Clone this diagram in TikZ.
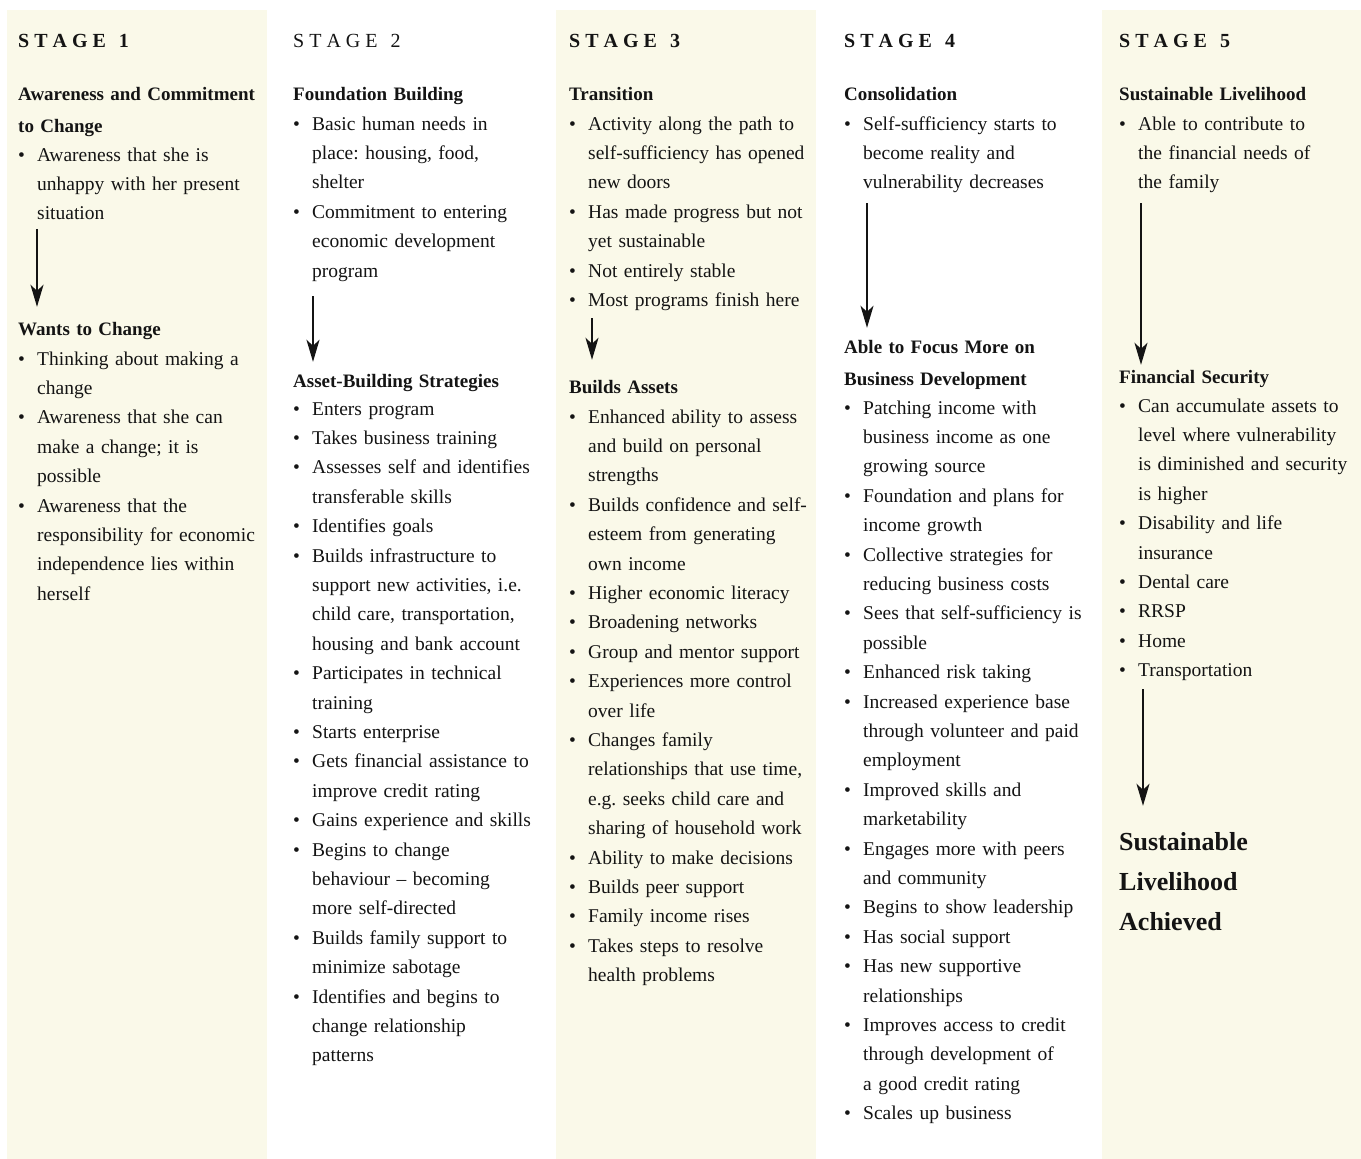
\documentclass[tikz,border=0pt]{standalone}
\usepackage{fontspec}
\setmainfont{Liberation Serif}
\usetikzlibrary{arrows.meta}
\definecolor{panel}{RGB}{250,249,233}
\definecolor{ink}{RGB}{20,20,20}
\newcommand\bul{\makebox[19pt][l]{\textbullet}}
\newcommand\itmf{\noindent\bul}
\newcommand\itm{\newline\bul}
\newcommand\nl{\newline\hspace*{19pt}}
\newcommand\stagettl[1]{S\kern5pt T\kern5pt A\kern5pt G\kern5pt E\kern13pt #1}
\frenchspacing
\begin{document}
\begin{tikzpicture}[x=1pt,y=-1pt,
  panelbox/.style={fill=panel,draw=none},
  ttl/.style={anchor=base west,inner sep=0pt,text=ink,font=\fontsize{20}{24}\selectfont\bfseries},
  ttlreg/.style={anchor=base west,inner sep=0pt,text=ink,font=\fontsize{20}{24}\selectfont},
  hd/.style={anchor=base west,inner sep=0pt,text=ink,text width=280pt,align=left,font=\fontsize{19}{32}\selectfont\bfseries\frenchspacing},
  lst/.style={anchor=base west,inner sep=0pt,text=ink,text width=280pt,align=left,font=\fontsize{19.5}{29.4}\selectfont\frenchspacing},
  big/.style={anchor=base west,inner sep=0pt,text=ink,text width=280pt,align=left,font=\fontsize{26}{40}\selectfont\bfseries},
  arr/.style={draw=ink,line width=1.6pt,-{Stealth[length=22pt,width=13pt,inset=6pt]}}]
\useasboundingbox (0,0) rectangle (1361,1159);
\fill[white] (0,0) rectangle (1361,1159);
\fill[panelbox] (7,10) rectangle (267,1159);
\fill[panelbox] (556,10) rectangle (816,1159);
\fill[panelbox] (1102,10) rectangle (1361,1159);

% ---------------- Stage 1
\node[ttl] (s1t) at (18,47) {\stagettl{1}};
\node[hd] (s1h1) at (18,100) {\strut Awareness and Commitment\\to Change};
\node[lst] (s1l1) at (18,161) {\itmf Awareness that she is\nl unhappy with her present\nl situation\strut};
\node[hd] (s1h2) at (18,335) {\strut Wants to Change};
\node[lst] (s1l2) at (18,365) {\itmf Thinking about making a\nl change
\itm Awareness that she can\nl make a change; it is\nl possible
\itm Awareness that the\nl responsibility for economic\nl independence lies within\nl herself\strut};
\draw[arr] ([xshift=19pt,yshift=0pt]s1l1.south west) -- ([xshift=19pt,yshift=5.6pt]s1h2.north west);

% ---------------- Stage 2
\node[ttlreg] (s2t) at (293,47) {\stagettl{2}};
\node[hd] (s2h1) at (293,100) {\strut Foundation Building};
\node[lst] (s2l1) at (293,130) {\itmf Basic human needs in\nl place: housing, food,\nl shelter
\itm Commitment to entering\nl economic development\nl program\strut};
\node[hd] (s2h2) at (293,387) {\strut Asset-Building Strategies};
\node[lst] (s2l2) at (293,415) {\itmf Enters program
\itm Takes business training
\itm Assesses self and identifies\nl transferable skills
\itm Identifies goals
\itm Builds infrastructure to\nl support new activities, i.e.\nl child care, transportation,\nl housing and bank account
\itm Participates in technical\nl training
\itm Starts enterprise
\itm Gets financial assistance to\nl improve credit rating
\itm Gains experience and skills
\itm Begins to change\nl behaviour – becoming\nl more self-directed
\itm Builds family support to\nl minimize sabotage
\itm Identifies and begins to\nl change relationship\nl patterns\strut};
\draw[arr] ([xshift=20pt,yshift=-10pt]s2l1.south west) -- ([xshift=20pt,yshift=2.6pt]s2h2.north west);

% ---------------- Stage 3
\node[ttl] (s3t) at (569,47) {\stagettl{3}};
\node[hd] (s3h1) at (569,100) {\strut Transition};
\node[lst] (s3l1) at (569,130) {\itmf Activity along the path to\nl self-sufficiency has opened\nl new doors
\itm Has made progress but not\nl yet sustainable
\itm Not entirely stable
\itm Most programs finish here\strut};
\node[hd] (s3h2) at (569,393) {\strut Builds Assets};
\node[lst] (s3l2) at (569,423) {\itmf Enhanced ability to assess\nl and build on personal\nl strengths
\itm Builds confidence and self-\nl esteem from generating\nl own income
\itm Higher economic literacy
\itm Broadening networks
\itm Group and mentor support
\itm Experiences more control\nl over life
\itm Changes family\nl relationships that use time,\nl e.g. seeks child care and\nl sharing of household work
\itm Ability to make decisions
\itm Builds peer support
\itm Family income rises
\itm Takes steps to resolve\nl health problems\strut};
\draw[arr] ([xshift=23pt,yshift=-3pt]s3l1.south west) -- ([xshift=23pt,yshift=10.6pt]s3h2.north west);

% ---------------- Stage 4
\node[ttl] (s4t) at (844,47) {\stagettl{4}};
\node[hd] (s4h1) at (844,100) {\strut Consolidation};
\node[lst] (s4l1) at (844,130) {\itmf Self-sufficiency starts to\nl become reality and\nl vulnerability decreases\strut};
\node[hd] (s4h2) at (844,353) {\strut Able to Focus More on\\Business Development};
\node[lst] (s4l2) at (844,414) {\itmf Patching income with\nl business income as one\nl growing source
\itm Foundation and plans for\nl income growth
\itm Collective strategies for\nl reducing business costs
\itm Sees that self-sufficiency is\nl possible
\itm Enhanced risk taking
\itm Increased experience base\nl through volunteer and paid\nl employment
\itm Improved skills and\nl marketability
\itm Engages more with peers\nl and community
\itm Begins to show leadership
\itm Has social support
\itm Has new supportive\nl relationships
\itm Improves access to credit\nl through development of\nl a good credit rating
\itm Scales up business\strut};
\draw[arr] ([xshift=23pt,yshift=-5.4pt]s4l1.south west) -- ([xshift=23pt,yshift=2.6pt]s4h2.north west);

% ---------------- Stage 5
\node[ttl] (s5t) at (1119,47) {\stagettl{5}};
\node[hd] (s5h1) at (1119,100) {\strut Sustainable Livelihood};
\node[lst] (s5l1) at (1119,130) {\itmf Able to contribute to\nl the financial needs of\nl the family\strut};
\node[hd] (s5h2) at (1119,383) {\strut Financial Security};
\node[lst] (s5l2) at (1119,412) {\itmf Can accumulate assets to\nl level where vulnerability\nl is diminished and security\nl is higher
\itm Disability and life\nl insurance
\itm Dental care
\itm RRSP
\itm Home
\itm Transportation\strut};
\node[big] (s5h3) at (1119,850) {\strut Sustainable\\Livelihood\\Achieved};
\draw[arr] ([xshift=22pt,yshift=-5.4pt]s5l1.south west) -- ([xshift=22pt,yshift=-4.4pt]s5h2.north west);
\draw[arr] ([xshift=24pt,yshift=-3.6pt]s5l2.south west) -- ([xshift=24pt,yshift=16pt]s5h3.north west);
\end{tikzpicture}
\end{document}
